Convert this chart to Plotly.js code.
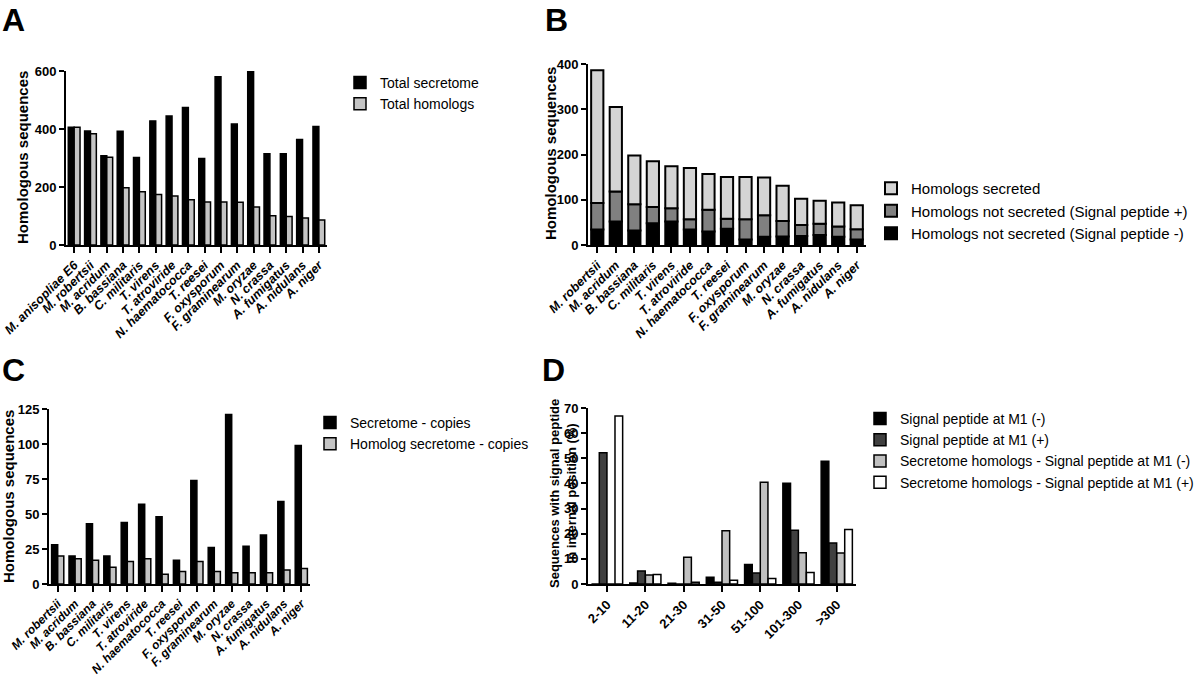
<!DOCTYPE html>
<html>
<head>
<meta charset="utf-8">
<script src="https://cdn.plot.ly/plotly-3.0.1.min.js"></script>
<style>html,body{margin:0;padding:0;background:#fff}#chart{width:1200px;height:678px}</style>
</head>
<body>
<div id="chart"></div>
<script>
// ---------- Panel A ----------
const speciesA = ['M. anisopliae E6','M. robertsii','M. acridum','B. bassiana','C. militaris','T. virens','T. atroviride','N. haematococca','T. reesei','F. oxysporum','F. graminearum','M. oryzae','N. crassa','A. fumigatus','A. nidulans','A. niger'];
const totalSecretome = [406,393,308,392,302,428,445,474,298,580,417,599,315,315,364,409];
const totalHomologs  = [406,384,303,197,184,174,169,156,148,148,147,131,101,98,93,86];

// ---------- Panel B ----------
const speciesB = ['M. robertsii','M. acridum','B. bassiana','C. militaris','T. virens','T. atroviride','N. haematococca','T. reesei','F. oxysporum','F. graminearum','M. oryzae','N. crassa','A. fumigatus','A. nidulans','A. niger'];
const notSecretedMinus = [34,52,32,48,52,34,30,36,12,18,19,20,22,18,12];
const notSecretedPlus  = [59,66,58,36,29,23,48,22,45,48,34,24,25,23,23];
const homologsSecreted = [293,187,108,101,93,113,79,92,93,83,78,58,51,53,53];

// ---------- Panel C ----------
const speciesC = speciesB.slice();
const secretomeCopies = [28,20,43,20,44,57,48,17,74,26,121,27,35,59,99];
const homologCopies   = [20,18,17,12,16,18,7,9,16,9,8,8,8,10,11];

// ---------- Panel D ----------
const positionBins = ['2-10','11-20','21-30','31-50','51-100','101-300','>300'];
const spM1Minus    = [0,0.4,0.3,2.7,7.8,40.1,48.8];
const spM1Plus     = [52.2,5.2,0,0.7,4.4,21.4,16.3];
const homM1Minus   = [0,3.6,10.6,21.2,40.5,12.4,12.3];
const homM1Plus    = [66.8,3.8,0.7,1.5,2.2,4.6,21.7];

const FONT = 'Arial, "Liberation Sans", sans-serif';
const W = 1200, H = 678;
const px = v => v / W;
const py = v => 1 - v / H;
const OUT = {color:'#000', width:1.5};
const OUTB = {color:'#000', width:2};

const baseB2 = notSecretedMinus.slice();
const baseB3 = notSecretedMinus.map((v,i)=>v + notSecretedPlus[i]);

const traces = [
  // A
  {type:'bar', x:speciesA, y:totalSecretome, name:'Total secretome', xaxis:'x', yaxis:'y', legend:'legend',
   width:0.36, offset:-0.36, marker:{color:'#000', line:OUT}},
  {type:'bar', x:speciesA, y:totalHomologs, name:'Total homologs', xaxis:'x', yaxis:'y', legend:'legend',
   width:0.36, offset:0, marker:{color:'#c4c4c4', line:OUT}},
  // B (stacked via base)
  {type:'bar', x:speciesB, y:notSecretedMinus, name:'Homologs not secreted (Signal peptide -)', xaxis:'x2', yaxis:'y2', legend:'legend2',
   width:0.66, offset:-0.33, marker:{color:'#000', line:OUTB}},
  {type:'bar', x:speciesB, y:notSecretedPlus, base:baseB2, name:'Homologs not secreted (Signal peptide +)', xaxis:'x2', yaxis:'y2', legend:'legend2',
   width:0.66, offset:-0.33, marker:{color:'#808080', line:OUTB}},
  {type:'bar', x:speciesB, y:homologsSecreted, base:baseB3, name:'Homologs secreted', xaxis:'x2', yaxis:'y2', legend:'legend2',
   width:0.66, offset:-0.33, marker:{color:'#d4d4d4', line:OUTB}},
  // C
  {type:'bar', x:speciesC, y:secretomeCopies, name:'Secretome - copies', xaxis:'x3', yaxis:'y3', legend:'legend3',
   width:0.35, offset:-0.35, marker:{color:'#000', line:OUT}},
  {type:'bar', x:speciesC, y:homologCopies, name:'Homolog secretome - copies', xaxis:'x3', yaxis:'y3', legend:'legend3',
   width:0.35, offset:0, marker:{color:'#c4c4c4', line:OUT}},
  // D
  {type:'bar', x:positionBins, y:spM1Minus, name:'Signal peptide at M1 (-)', xaxis:'x4', yaxis:'y4', legend:'legend4',
   width:0.2, offset:-0.41, marker:{color:'#000', line:OUT}},
  {type:'bar', x:positionBins, y:spM1Plus, name:'Signal peptide at M1 (+)', xaxis:'x4', yaxis:'y4', legend:'legend4',
   width:0.2, offset:-0.205, marker:{color:'#404040', line:OUT}},
  {type:'bar', x:positionBins, y:homM1Minus, name:'Secretome homologs - Signal peptide at M1 (-)', xaxis:'x4', yaxis:'y4', legend:'legend4',
   width:0.2, offset:0, marker:{color:'#c0c0c0', line:OUT}},
  {type:'bar', x:positionBins, y:homM1Plus, name:'Secretome homologs - Signal peptide at M1 (+)', xaxis:'x4', yaxis:'y4', legend:'legend4',
   width:0.2, offset:0.205, marker:{color:'#ffffff', line:OUT}}
];

function xAx(dom, italic, anchor, size){
  return {domain:dom, anchor:anchor, type:'category', tickmode:'linear', tick0:0, dtick:1,
    showline:true, linewidth:2, linecolor:'#000',
    ticks:'outside', ticklen:6, tickwidth:2, tickcolor:'#000', tickangle:-45, showgrid:false, zeroline:false,
    automargin:false,
    tickfont:{family:FONT, size:size, color:'#000', weight:'bold', style: italic ? 'italic' : 'normal'},
    fixedrange:true};
}
function yAx(dom, range, dtick, anchor){
  return {domain:dom, anchor:anchor, range:range, dtick:dtick, tick0:0, showline:true, linewidth:2, linecolor:'#000',
    ticks:'outside', ticklen:5, tickwidth:2, tickcolor:'#000', showgrid:false, zeroline:false, automargin:false,
    tickfont:{family:FONT, size:13, color:'#000', weight:'bold'}, fixedrange:true};
}
function leg(xp, yp, size){
  return {x:px(xp), y:py(yp), xanchor:'left', yanchor:'top', bgcolor:'rgba(0,0,0,0)',
    font:{family:FONT, size:size, color:'#000'}, tracegroupgap:0, traceorder:'normal', itemclick:false};
}

const letter = (t, x, y) => ({text:t, xref:'paper', yref:'paper', x:px(x), y:py(y), xanchor:'left', yanchor:'top',
  showarrow:false, font:{family:FONT, size:32, color:'#000', weight:'bold'}});
const ytitle = (t, x, y, s) => ({text:t, xref:'paper', yref:'paper', x:px(x), y:py(y), xanchor:'center', yanchor:'middle',
  textangle:-90, showarrow:false, font:{family:FONT, size:s, color:'#000', weight:'bold'}});

const layout = {
  width:W, height:H, margin:{l:0, r:0, t:0, b:0, autoexpand:false}, paper_bgcolor:'#fff', plot_bgcolor:'#fff',
  barmode:'overlay', showlegend:true,
  xaxis:  xAx([px(66), px(327)], true, 'y', 12.5),
  yaxis:  yAx([py(245), py(71)], [0,600], 200, 'x'),
  xaxis2: xAx([px(588), px(866)], true, 'y2', 12.5),
  yaxis2: yAx([py(245), py(64)], [0,400], 100, 'x2'),
  xaxis3: xAx([px(49), px(310)], true, 'y3', 12),
  yaxis3: yAx([py(584), py(409)], [0,125], 25, 'x3'),
  xaxis4: xAx([px(588), px(856)], false, 'y4', 13),
  yaxis4: yAx([py(584), py(408)], [0,70], 10, 'x4'),
  legend:  leg(340, 67, 14),
  legend2: Object.assign(leg(871, 172, 15), {traceorder:'reversed'}),
  legend3: leg(310, 407, 14),
  legend4: leg(860, 403, 14),
  annotations:[
    letter('A', 0, 0), letter('B', 543, 0), letter('C', 0, 350), letter('D', 540, 350),
    ytitle('Homologous sequences', 22, 158, 15),
    ytitle('Homologous sequences', 550, 154, 15),
    ytitle('Homologous sequences', 9, 497, 15),
    ytitle('Sequences with signal peptide<br>in internal position (%)', 563, 494, 13)
  ]
};

Plotly.newPlot('chart', traces, layout, {displayModeBar:false, staticPlot:true});
</script>
</body>
</html>
